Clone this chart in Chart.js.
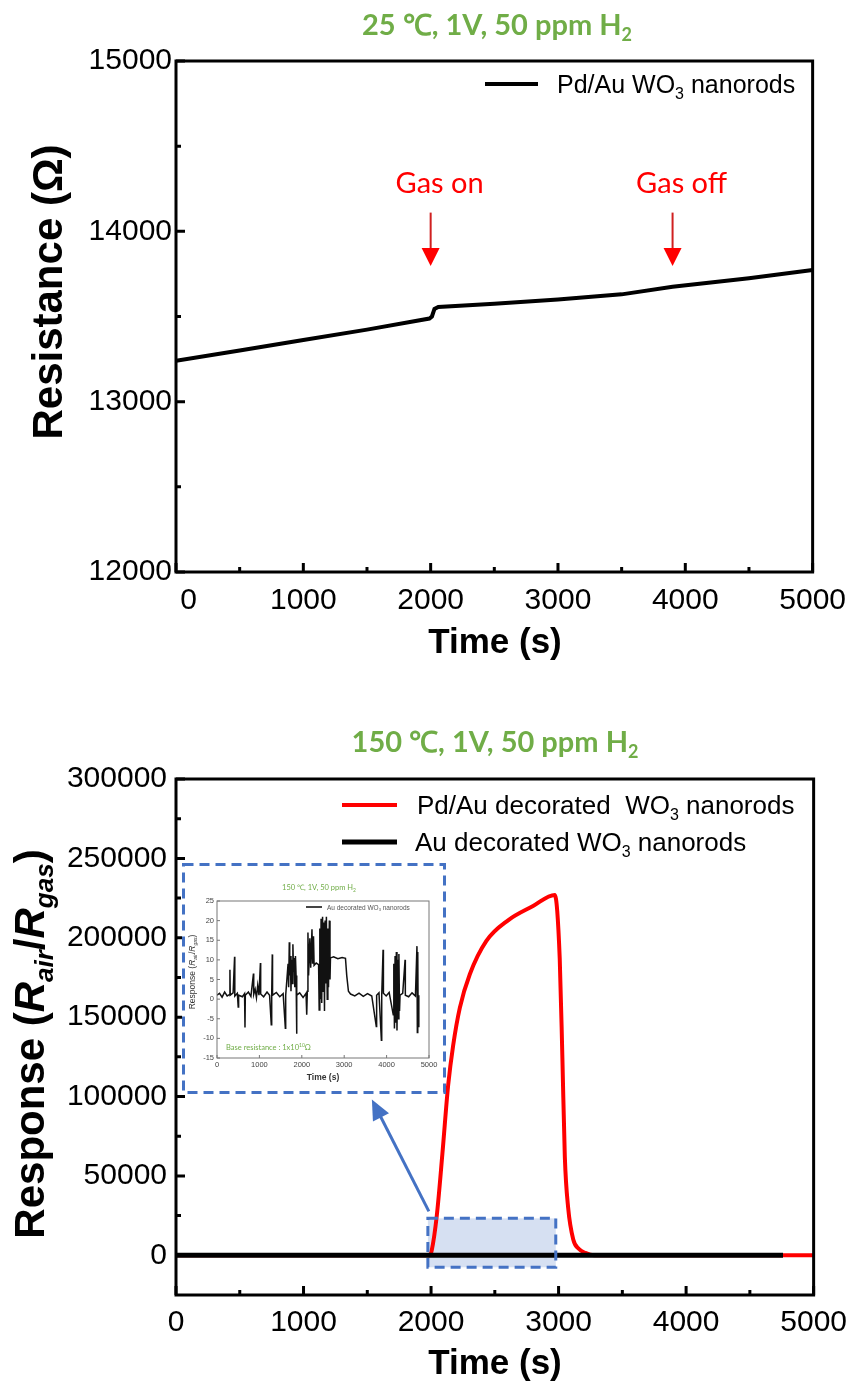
<!DOCTYPE html>
<html>
<head>
<meta charset="utf-8">
<script src="https://cdn.jsdelivr.net/npm/chart.js@4.4.1/dist/chart.umd.min.js"></script>
<style>
  html, body { margin: 0; padding: 0; background: #fff; }
  #wrap { position: relative; width: 857px; height: 1387px; overflow: hidden; }
  canvas { position: absolute; }
  #c1 { left: 0; top: 0; }
  #c2 { left: 0; top: 690px; }
  #c3 { left: 182px; top: 863px; }
</style>
</head>
<body>
<div id="wrap">
  <canvas id="c1" width="857" height="690"></canvas>
  <canvas id="c2" width="857" height="697"></canvas>
  <canvas id="c3" width="264" height="231"></canvas>
</div>
<script>
// ---- top panel: 25 C, resistance of Pd/Au WO3 nanorods
var rtTime = [0, 500, 1000, 1500, 1990, 2010, 2030, 2060, 2500, 3000, 3500, 3900, 4500, 5000];
var rtRes = [13240, 13300, 13362, 13423, 13488, 13500, 13545, 13556, 13575, 13600, 13630, 13675, 13725, 13773];
var timeTicks = [0, 1000, 2000, 3000, 4000, 5000];
var timeMinor = [500, 1500, 2500, 3500, 4500];
var resTicks = [12000, 13000, 14000, 15000];
var resMinor = [12500, 13500, 14500];
var gasTimes = [2000, 3900];
var gasLabels = ['Gas on', 'Gas off'];

// ---- bottom panel: 150 C, response
var hotTime = [0, 1990, 2005, 2045, 2089, 2134, 2173, 2226, 2304, 2434, 2604, 2800, 2970, 3009, 3030, 3049, 3075, 3115, 3160, 3210, 3280, 5000];
var pdauResp = [0, 0, 3000, 25000, 64000, 107000, 132000, 156000, 177000, 198000, 211000, 220000, 227000, 187000, 124000, 62000, 30000, 10000, 4000, 1500, 0, 0];
var respTicks = [0, 50000, 100000, 150000, 200000, 250000, 300000];
var respMinor = [25000, 75000, 125000, 175000, 225000, 275000];

// ---- inset: Au decorated WO3 nanorods (also the black line of the bottom panel)
var auTime = [0, 60, 120, 180, 240, 300, 305, 312, 380, 415, 420, 480, 500, 510, 600, 650, 660, 668, 740, 800,
  860, 866, 900, 930, 960, 990, 1024, 1030, 1100, 1180, 1240, 1280, 1290, 1304, 1310, 1400, 1480, 1560, 1612, 1620,
  1676, 1690, 1705, 1715, 1730, 1745, 1760, 1775, 1790, 1805, 1820, 1835, 1850, 1865, 1876, 1885, 1950, 2030, 2100, 2116,
  2130, 2145, 2160, 2190, 2210, 2240, 2255, 2276, 2290, 2340, 2396, 2410, 2425, 2440, 2455, 2470, 2490, 2505, 2520, 2535,
  2550, 2565, 2580, 2600, 2615, 2630, 2650, 2665, 2676, 2750, 2850, 2950, 3030, 3060, 3100, 3150, 3250, 3350, 3450, 3550,
  3650, 3757, 3765, 3820, 3877, 3885, 3917, 3925, 3990, 4060, 4157, 4170, 4185, 4200, 4215, 4230, 4245, 4260, 4275, 4290,
  4305, 4317, 4380, 4436, 4442, 4520, 4600, 4680, 4716, 4725, 4735, 4745, 4760];
var auResp = [1, 1.5, 0.5, 1.8, 0.8, 1.2, 7.5, 1, 1.6, 10.8, 0.8, 1.5, -2, 1, 0.6, 1.4, -7.2, 1, 1.8, 0.7,
  6.5, 1.2, 2.5, 0.4, 3.5, 1, 9.2, 1.3, 0.6, 1.8, 1, -6.5, 1.2, 11.4, 1, 1.7, 0.6, 1.4, -7.4, 1,
  9, 3, 14.5, 6, 11, 2, 10, 4, 14, 7, 10.5, 3, 11, 6, -8.8, 1, 1.6, 0.4, 1.5, -4,
  2, 17, 6, 15.5, 8, 17.8, 9, 16, 8.6, 9.2, 8.8, -2.8, 18, 0, 20.5, -1, 21, 2, 19.5, -3,
  20, 4, 21, 0, 18, 3, 20, 5, 10.5, 10.8, 10.3, 10.6, 10.4, 6, 2, 1.3, 0.8, 1.5, 0.7, 1.4,
  0.8, -7, 1, 1.6, -10.5, 1, 12.6, 1.5, 0.8, 1.7, -4, 9, -7.5, 11, -6, 12, -8, 10, -5, 11.5,
  -3, 1, 1.5, 10, 1, 0.6, 1.6, 0.8, 13.5, -8.5, 12, -7, 1];
var miniTimeTicks = [0, 1000, 2000, 3000, 4000, 5000];
var miniRespTicks = [-15, -10, -5, 0, 5, 10, 15, 20, 25];

var SANS = "'Liberation Sans', Arial, sans-serif";
var LATO = "Lato, 'Open Sans', sans-serif";
var GREEN = '#70AD47';
var BLUE = '#4472C4';

Chart.defaults.font.family = SANS;
Chart.defaults.color = '#000';

function pts(xs, ys) {
  return xs.map(function (x, i) { return { x: x, y: ys[i] }; });
}

function fixTicks(list) {
  return function (s) { s.ticks = list.map(function (v) { return { value: v }; }); };
}

// draws a run of text pieces; style: 'b' base, 's' subscript, 'p' superscript, 'i' italic
function rich(ctx, parts, x, y, o) {
  var big = o.size, small = Math.round(o.size * 0.62);
  function setFont(st) {
    var sz = (st.indexOf('s') >= 0 || st.indexOf('p') >= 0) ? small : big;
    ctx.font = (st.indexOf('i') >= 0 ? 'italic ' : '') + (o.weight || 'normal') + ' ' + sz + 'px ' + o.family;
  }
  var total = 0;
  parts.forEach(function (p) { setFont(p[1] || ''); total += ctx.measureText(p[0]).width; });
  var cx = x;
  if (o.align === 'center') cx = x - total / 2;
  else if (o.align === 'right') cx = x - total;
  ctx.fillStyle = o.color || '#000';
  ctx.textAlign = 'left';
  ctx.textBaseline = 'alphabetic';
  parts.forEach(function (p) {
    var st = p[1] || '';
    setFont(st);
    var dy = st.indexOf('s') >= 0 ? big * 0.22 : (st.indexOf('p') >= 0 ? -big * 0.4 : 0);
    ctx.fillText(p[0], cx, y + dy);
    cx += ctx.measureText(p[0]).width;
  });
  return total;
}

function drawFrame(chart, xMinor, yMinor, major, minor, lw, color) {
  var ctx = chart.ctx, a = chart.chartArea, xs = chart.scales.x, ys = chart.scales.y;
  ctx.save();
  ctx.strokeStyle = color;
  ctx.lineWidth = lw;
  ctx.strokeRect(a.left, a.top, a.right - a.left, a.bottom - a.top);
  ctx.beginPath();
  xs.ticks.forEach(function (t) {
    var px = xs.getPixelForValue(t.value);
    ctx.moveTo(px, a.bottom); ctx.lineTo(px, a.bottom - major);
  });
  xMinor.forEach(function (v) {
    var px = xs.getPixelForValue(v);
    ctx.moveTo(px, a.bottom); ctx.lineTo(px, a.bottom - minor);
  });
  ys.ticks.forEach(function (t) {
    var py = ys.getPixelForValue(t.value);
    ctx.moveTo(a.left, py); ctx.lineTo(a.left + major, py);
  });
  yMinor.forEach(function (v) {
    var py = ys.getPixelForValue(v);
    ctx.moveTo(a.left, py); ctx.lineTo(a.left + minor, py);
  });
  ctx.stroke();
  ctx.restore();
}

function legendLine(ctx, x1, x2, y, color, w) {
  ctx.save();
  ctx.strokeStyle = color; ctx.lineWidth = w;
  ctx.beginPath(); ctx.moveTo(x1, y); ctx.lineTo(x2, y); ctx.stroke();
  ctx.restore();
}

function arrowHead(ctx, x1, y1, x2, y2, len, half, color) {
  var ang = Math.atan2(y2 - y1, x2 - x1);
  ctx.save();
  ctx.fillStyle = color;
  ctx.translate(x2, y2);
  ctx.rotate(ang);
  ctx.beginPath();
  ctx.moveTo(0, 0); ctx.lineTo(-len, -half); ctx.lineTo(-len, half);
  ctx.closePath(); ctx.fill();
  ctx.restore();
}

// ---------------- chart 1 ----------------
var topDeco = {
  id: 'topDeco',
  afterDraw: function (chart) {
    var ctx = chart.ctx, xs = chart.scales.x, ys = chart.scales.y;
    drawFrame(chart, timeMinor, resMinor, 9, 5, 3, '#000');
    ctx.save();
    rich(ctx, [['25 ℃, 1V, 50 ppm H', 'b'], ['2', 's']], 497, 35, { size: 29, family: LATO, weight: 'bold', color: GREEN, align: 'center' });
    rich(ctx, [['Time (s)', 'b']], 495, 653, { size: 35, family: SANS, weight: 'bold', align: 'center' });
    ctx.save();
    ctx.translate(62, 292);
    ctx.rotate(-Math.PI / 2);
    rich(ctx, [['Resistance (Ω)', 'b']], 0, 0, { size: 42, family: SANS, weight: 'bold', align: 'center' });
    ctx.restore();
    // legend
    legendLine(ctx, 485, 538, 84, '#000', 4);
    rich(ctx, [['Pd/Au WO', 'b'], ['3', 's'], [' nanorods', 'b']], 557, 93, { size: 25, family: SANS });
    // gas on / off arrows
    gasTimes.forEach(function (t, i) {
      var px = xs.getPixelForValue(t);
      var yTop = ys.getPixelForValue(14110), yTip = ys.getPixelForValue(13797);
      ctx.strokeStyle = '#D02020'; ctx.lineWidth = 2;
      ctx.beginPath(); ctx.moveTo(px, yTop); ctx.lineTo(px, yTip - 14); ctx.stroke();
      arrowHead(ctx, px, yTop, px, yTip, 18, 9, '#FF0000');
      rich(ctx, [[gasLabels[i], 'b']], px + 9, ys.getPixelForValue(14284) + 10, { size: 29, family: LATO, color: '#FF0000', align: 'center' });
    });
    ctx.restore();
  }
};

new Chart(document.getElementById('c1'), {
  type: 'line',
  data: {
    datasets: [{
      label: 'Pd/Au WO3 nanorods',
      data: pts(rtTime, rtRes),
      borderColor: '#000',
      borderWidth: 4,
      pointRadius: 0,
      tension: 0
    }]
  },
  options: {
    responsive: false,
    animation: false,
    devicePixelRatio: 1,
    layout: { padding: { top: 61, right: 43, left: 0, bottom: 0 } },
    plugins: { legend: { display: false }, tooltip: { enabled: false }, title: { display: false } },
    scales: {
      x: {
        type: 'linear', min: 0, max: 5000,
        afterBuildTicks: fixTicks(timeTicks),
        afterFit: function (s) { s.height = 118; },
        grid: { display: false, drawTicks: false },
        border: { display: false },
        ticks: { font: { size: 30 }, color: '#000', padding: 11, maxRotation: 0, autoSkip: false,
          callback: function (v) { return v === 0 ? '   0' : String(v); } }
      },
      y: {
        type: 'linear', min: 12000, max: 15000,
        afterBuildTicks: fixTicks(resTicks),
        afterFit: function (s) { s.width = 176; },
        grid: { display: false, drawTicks: false },
        border: { display: false },
        ticks: { font: { size: 30 }, color: '#000', padding: 4, autoSkip: false,
          callback: function (v) { return String(v); } }
      }
    }
  },
  plugins: [topDeco]
});

// ---------------- chart 2 ----------------
var botDeco = {
  id: 'botDeco',
  beforeDatasetsDraw: function (chart) {
    var ctx = chart.ctx, xs = chart.scales.x, ys = chart.scales.y;
    var x1 = xs.getPixelForValue(1975), x2 = xs.getPixelForValue(2978);
    var y1 = ys.getPixelForValue(23270), y2 = ys.getPixelForValue(-7550);
    ctx.save();
    ctx.fillStyle = 'rgba(180,199,231,0.55)';
    ctx.fillRect(x1, y1, x2 - x1, y2 - y1);
    ctx.restore();
  },
  afterDraw: function (chart) {
    var ctx = chart.ctx, xs = chart.scales.x, ys = chart.scales.y;
    drawFrame(chart, timeMinor, respMinor, 9, 5, 3, '#000');
    ctx.save();
    // dashed zoom box
    var x1 = xs.getPixelForValue(1975), x2 = xs.getPixelForValue(2978);
    var y1 = ys.getPixelForValue(23270), y2 = ys.getPixelForValue(-7550);
    ctx.strokeStyle = BLUE; ctx.lineWidth = 3; ctx.setLineDash([10, 6]);
    ctx.strokeRect(x1, y1, x2 - x1, y2 - y1);
    ctx.setLineDash([]);
    // arrow towards the inset
    var ax1 = xs.getPixelForValue(1983), ay1 = ys.getPixelForValue(27700);
    var ax2 = xs.getPixelForValue(1536), ay2 = ys.getPixelForValue(98100);
    ctx.beginPath(); ctx.moveTo(ax1, ay1);
    var ang = Math.atan2(ay2 - ay1, ax2 - ax1);
    ctx.lineTo(ax2 - Math.cos(ang) * 14, ay2 - Math.sin(ang) * 14);
    ctx.lineWidth = 3; ctx.stroke();
    arrowHead(ctx, ax1, ay1, ax2, ay2, 20, 9, BLUE);
    // texts
    rich(ctx, [['150 ℃, 1V, 50 ppm H', 'b'], ['2', 's']], 495, 62, { size: 29, family: LATO, weight: 'bold', color: GREEN, align: 'center' });
    rich(ctx, [['Time (s)', 'b']], 495, 684, { size: 35, family: SANS, weight: 'bold', align: 'center' });
    ctx.save();
    ctx.translate(44, 354);
    ctx.rotate(-Math.PI / 2);
    rich(ctx, [['Response (', 'b'], ['R', 'i'], ['air', 'is'], ['/', 'b'], ['R', 'i'], ['gas', 'is'], [')', 'b']], 0, 0,
      { size: 42, family: SANS, weight: 'bold', align: 'center' });
    ctx.restore();
    // legend
    legendLine(ctx, 342, 397, 115, '#FF0000', 4);
    legendLine(ctx, 342, 397, 152, '#000', 5);
    rich(ctx, [['Pd/Au decorated  WO', 'b'], ['3', 's'], [' nanorods', 'b']], 417, 124, { size: 26, family: SANS });
    rich(ctx, [['Au decorated WO', 'b'], ['3', 's'], [' nanorods', 'b']], 415, 161, { size: 26, family: SANS });
    ctx.restore();
  }
};

new Chart(document.getElementById('c2'), {
  type: 'line',
  data: {
    datasets: [{
      label: 'Pd/Au decorated WO3 nanorods',
      data: pts(hotTime, pdauResp),
      borderColor: '#FF0000',
      borderWidth: 4,
      pointRadius: 0,
      cubicInterpolationMode: 'monotone',
      order: 1
    }, {
      label: 'Au decorated WO3 nanorods',
      data: pts(auTime, auResp),
      borderColor: '#000',
      borderWidth: 5,
      pointRadius: 0,
      tension: 0,
      order: 0
    }]
  },
  options: {
    responsive: false,
    animation: false,
    devicePixelRatio: 1,
    layout: { padding: { top: 89, right: 43, left: 0, bottom: 0 } },
    plugins: { legend: { display: false }, tooltip: { enabled: false }, title: { display: false } },
    scales: {
      x: {
        type: 'linear', min: 0, max: 5000,
        afterBuildTicks: fixTicks(timeTicks),
        afterFit: function (s) { s.height = 92; },
        grid: { display: false, drawTicks: false },
        border: { display: false },
        ticks: { font: { size: 30 }, color: '#000', padding: 10, maxRotation: 0, autoSkip: false,
          callback: function (v) { return String(v); } }
      },
      y: {
        type: 'linear', min: -25000, max: 300000,
        afterBuildTicks: fixTicks(respTicks),
        afterFit: function (s) { s.width = 176; },
        grid: { display: false, drawTicks: false },
        border: { display: false },
        ticks: { font: { size: 30 }, color: '#000', padding: 9, autoSkip: false,
          callback: function (v) { return String(v); } }
      }
    }
  },
  plugins: [botDeco]
});

// ---------------- chart 3 (inset) ----------------
var insetDeco = {
  id: 'insetDeco',
  beforeDraw: function (chart) {
    var ctx = chart.ctx;
    ctx.save(); ctx.fillStyle = '#fff'; ctx.fillRect(0, 0, chart.width, chart.height); ctx.restore();
  },
  afterDraw: function (chart) {
    var ctx = chart.ctx, a = chart.chartArea;
    drawFrame(chart, [], [], 3, 2, 1, '#777');
    ctx.save();
    rich(ctx, [['150 ℃, 1V, 50 ppm H', 'b'], ['2', 's']], 137, 27, { size: 7.5, family: LATO, color: GREEN, align: 'center' });
    rich(ctx, [['Time (s)', 'b']], (a.left + a.right) / 2, 217, { size: 8.5, family: SANS, weight: 'bold', color: '#333', align: 'center' });
    ctx.save();
    ctx.translate(13, 109);
    ctx.rotate(-Math.PI / 2);
    rich(ctx, [['Response (', 'b'], ['R', 'i'], ['air', 'is'], ['/', 'b'], ['R', 'i'], ['gas', 'is'], [')', 'b']], 0, 0,
      { size: 8.5, family: SANS, color: '#333', align: 'center' });
    ctx.restore();
    legendLine(ctx, 124, 140, 44, '#444', 2);
    rich(ctx, [['Au decorated WO', 'b'], ['3', 's'], [' nanorods', 'b']], 145, 46.5, { size: 6.5, family: SANS, color: '#555' });
    rich(ctx, [['Base resistance : 1x10', 'b'], ['10', 'p'], ['Ω', 'b']], 44, 187, { size: 7.5, family: LATO, color: GREEN });
    // dashed outline of the inset
    ctx.strokeStyle = BLUE; ctx.lineWidth = 3; ctx.setLineDash([10, 6]);
    ctx.strokeRect(1.5, 1.5, chart.width - 3, chart.height - 3);
    ctx.restore();
  }
};

new Chart(document.getElementById('c3'), {
  type: 'line',
  data: {
    datasets: [{
      label: 'Au decorated WO3 nanorods',
      data: pts(auTime, auResp),
      borderColor: '#111',
      borderWidth: 1.5,
      pointRadius: 0,
      tension: 0
    }]
  },
  options: {
    responsive: false,
    animation: false,
    devicePixelRatio: 1,
    layout: { padding: { top: 38, right: 17, left: 0, bottom: 0 } },
    plugins: { legend: { display: false }, tooltip: { enabled: false }, title: { display: false } },
    scales: {
      x: {
        type: 'linear', min: 0, max: 5000,
        afterBuildTicks: fixTicks(miniTimeTicks),
        afterFit: function (s) { s.height = 36; },
        grid: { display: false, drawTicks: false },
        border: { display: false },
        ticks: { font: { size: 7.5 }, color: '#444', padding: 2, maxRotation: 0, autoSkip: false,
          callback: function (v) { return String(v); } }
      },
      y: {
        type: 'linear', min: -15, max: 25,
        afterBuildTicks: fixTicks(miniRespTicks),
        afterFit: function (s) { s.width = 35; },
        grid: { display: false, drawTicks: false },
        border: { display: false },
        ticks: { font: { size: 7.5 }, color: '#444', padding: 3, autoSkip: false,
          callback: function (v) { return String(v); } }
      }
    }
  },
  plugins: [insetDeco]
});
</script>
</body>
</html>
